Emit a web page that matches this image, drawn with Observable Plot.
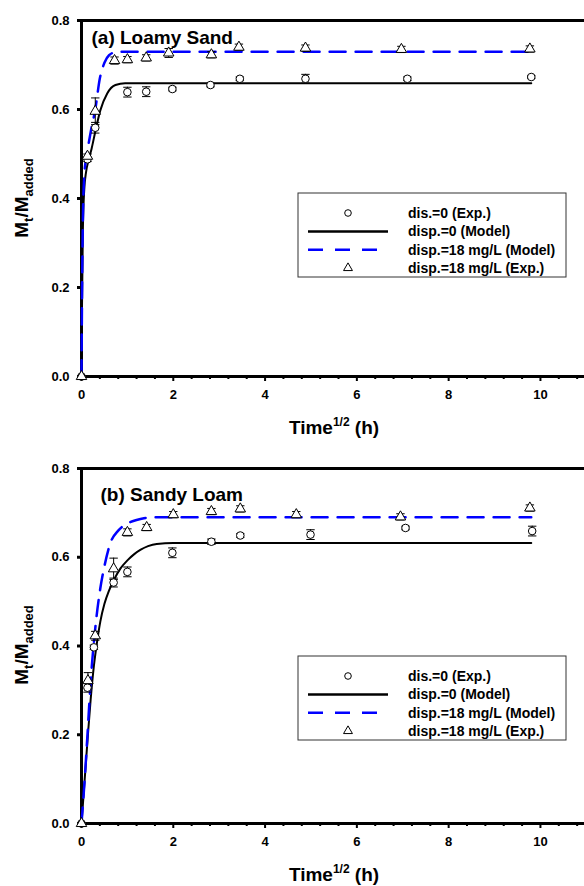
<!DOCTYPE html>
<html>
<head>
<meta charset="utf-8">
<script src="https://cdn.jsdelivr.net/npm/d3@7"></script>
<script src="https://cdn.jsdelivr.net/npm/@observablehq/plot@0.6"></script>
<style>
  html, body { margin: 0; padding: 0; background: white; }
  #chart { width: 584px; }
  #chart svg { display: block; }
</style>
</head>
<body>
<div id="chart"></div>
<script>
// ---------- axis ticks / labels ----------
const xTicks = [0, 2, 4, 6, 8, 10];
const xMinorTicks = [0.4, 0.8, 1.2, 1.6, 2.4, 2.8, 3.2, 3.6, 4.4, 4.8, 5.2, 5.6, 6.4, 6.8, 7.2, 7.6, 8.4, 8.8, 9.2, 9.6, 10.4, 10.8];
const yTicks = [0, 0.2, 0.4, 0.6, 0.8];
const legendLabels = ["dis.=0 (Exp.)", "disp.=0 (Model)", "disp.=18 mg/L (Model)", "disp.=18 mg/L (Exp.)"];
const panelTitles = ["(a) Loamy Sand", "(b) Sandy Loam"];

// ---------- (a) Loamy Sand ----------
const aCircT = [0, 0.13, 0.3, 1.0, 1.41, 1.98, 2.81, 3.45, 4.88, 7.1, 9.8];
const aCircV = [0, 0.488, 0.559, 0.639, 0.640, 0.646, 0.655, 0.669, 0.669, 0.669, 0.673];
const aCircE = [0, 0.005, 0.012, 0.011, 0.011, 0.004, 0.004, 0.004, 0.010, 0.004, 0.003];
const aTriT = [0, 0.13, 0.3, 0.72, 1.0, 1.41, 1.90, 2.83, 3.43, 4.88, 6.97, 9.77];
const aTriV = [0, 0.495, 0.596, 0.710, 0.712, 0.716, 0.727, 0.723, 0.740, 0.738, 0.735, 0.736];
const aTriE = [0, 0.005, 0.030, 0.008, 0.007, 0.007, 0.010, 0.007, 0.007, 0.007, 0.007, 0.007];
const aBlackT = [0, 0.01, 0.03, 0.06, 0.10, 0.15, 0.22, 0.30, 0.41, 0.56, 0.74, 0.95, 1.2, 9.8];
const aBlackV = [0, 0.15, 0.33, 0.42, 0.46, 0.485, 0.512, 0.550, 0.598, 0.636, 0.655, 0.659, 0.659, 0.659];
const aBlueT = [0, 0.01, 0.03, 0.06, 0.10, 0.15, 0.22, 0.30, 0.40, 0.50, 0.60, 0.75, 0.95, 9.83];
const aBlueV = [0, 0.16, 0.35, 0.45, 0.49, 0.52, 0.56, 0.60, 0.67, 0.705, 0.722, 0.729, 0.730, 0.730];

// ---------- (b) Sandy Loam ----------
const bCircT = [0, 0.13, 0.27, 0.7, 1.0, 1.98, 2.83, 3.46, 4.99, 7.06, 9.82];
const bCircV = [0, 0.306, 0.397, 0.543, 0.567, 0.610, 0.635, 0.649, 0.651, 0.666, 0.659];
const bCircE = [0, 0.010, 0.005, 0.010, 0.011, 0.011, 0.006, 0.004, 0.011, 0.004, 0.011];
const bTriT = [0, 0.14, 0.3, 0.7, 1.0, 1.42, 2.0, 2.83, 3.46, 4.68, 6.95, 9.77];
const bTriV = [0, 0.322, 0.423, 0.574, 0.656, 0.667, 0.696, 0.703, 0.709, 0.696, 0.691, 0.711];
const bTriE = [0, 0.018, 0.010, 0.024, 0.008, 0.007, 0.007, 0.007, 0.007, 0.007, 0.007, 0.007];
const bBlackT = [0, 0.07, 0.14, 0.20, 0.27, 0.34, 0.41, 0.50, 0.60, 0.70, 0.85, 1.0, 1.15, 1.29, 1.45, 1.64, 2.0, 9.8];
const bBlackV = [0, 0.10, 0.20, 0.28, 0.355, 0.41, 0.455, 0.495, 0.525, 0.548, 0.575, 0.593, 0.607, 0.617, 0.625, 0.630, 0.632, 0.632];
const bBlueT = [0, 0.07, 0.13, 0.20, 0.30, 0.41, 0.50, 0.63, 0.80, 1.0, 1.2, 1.36, 1.6, 9.8];
const bBlueV = [0, 0.10, 0.20, 0.32, 0.44, 0.53, 0.58, 0.632, 0.66, 0.676, 0.684, 0.688, 0.690, 0.690];

const FONT = "'Liberation Sans', Arial, Helvetica, sans-serif";
const BLUE = "#0000ff";

const pts = (T, V, E) => T.map((t, i) => ({t, v: V[i], e: E ? E[i] : 0}));

// horizontal cap symbol for error bars
const capSymbol = {
  draw(ctx, size) {
    const w = Math.sqrt(size / Math.PI);
    ctx.moveTo(-w, 0);
    ctx.lineTo(w, 0);
  }
};

function errorMarks(data) {
  const d = data.filter(p => p.e > 0);
  return [
    Plot.ruleX(d, {x: "t", y1: p => p.v - p.e, y2: p => p.v + p.e, stroke: "black", strokeWidth: 1}),
    Plot.dot(d, {x: "t", y: p => p.v + p.e, symbol: capSymbol, r: 4.2, stroke: "black", strokeWidth: 1, fill: "none"}),
    Plot.dot(d, {x: "t", y: p => p.v - p.e, symbol: capSymbol, r: 4.2, stroke: "black", strokeWidth: 1, fill: "none"})
  ];
}

function panel(cfg) {
  const circ = pts(cfg.circT, cfg.circV, cfg.circE);
  const tri = pts(cfg.triT, cfg.triV, cfg.triE);
  const black = pts(cfg.blackT, cfg.blackV);
  const blue = pts(cfg.blueT, cfg.blueV);
  const svg = Plot.plot({
    width: 584,
    height: cfg.height,
    marginLeft: 81,
    marginRight: 0,
    marginTop: cfg.mt,
    marginBottom: cfg.mb,
    x: {domain: [0, 10.96], axis: null, label: null},
    y: {domain: [0, 0.8], axis: null, label: null},
    style: {fontFamily: FONT, fontWeight: "bold", background: "white", color: "black", overflow: "visible"},
    marks: [
      Plot.axisX(xMinorTicks, {tickSize: 3, strokeWidth: 2, tickFormat: () => "", label: null}),
      Plot.axisX(xTicks, {tickSize: 5, strokeWidth: 2, tickPadding: 8, fontSize: 13, fontWeight: "bold", tickFormat: d => String(d), label: null}),
      Plot.axisY(yTicks, {tickSize: 4, strokeWidth: 3, tickPadding: 8, fontSize: 13, fontWeight: "bold", tickFormat: d3.format(".1f"), label: null}),
      Plot.ruleY([0.8], {stroke: "black", strokeWidth: 3}),
      Plot.ruleY([0], {stroke: "black", strokeWidth: 3}),
      Plot.ruleX([0], {stroke: "black", strokeWidth: 3}),
      Plot.line(black, {x: "t", y: "v", stroke: "black", strokeWidth: 2, curve: "monotone-x"}),
      Plot.line(blue, {x: "t", y: "v", stroke: BLUE, strokeWidth: 2.5, strokeDasharray: "16,10", curve: "monotone-x"}),
      ...errorMarks(circ),
      ...errorMarks(tri),
      Plot.dot(circ, {x: "t", y: "v", symbol: "circle", r: 3.8, stroke: "black", strokeWidth: 1, fill: "white"}),
      Plot.dot(tri, {x: "t", y: "v", symbol: "triangle", r: 3.9, stroke: "black", strokeWidth: 1, fill: "white"}),
      Plot.text([cfg.title], {frameAnchor: "top-left", dx: cfg.titleDx, dy: cfg.titleDy, fontSize: 19, fontWeight: "bold", textAnchor: "start", fill: "black"})
    ]
  });

  const s = d3.select(svg);
  // y axis title with subscripts
  const yl = s.append("text")
    .attr("transform", `translate(28,${cfg.yTitleY}) rotate(-90)`)
    .attr("text-anchor", "middle")
    .attr("font-family", FONT).attr("font-weight", "bold").attr("font-size", 19).attr("fill", "black");
  yl.append("tspan").text("M");
  yl.append("tspan").attr("font-size", 13).attr("dy", 5).text("t");
  yl.append("tspan").attr("dy", -5).text("/M");
  yl.append("tspan").attr("font-size", 13).attr("dy", 5).text("added");

  // x axis title with superscript
  const xl = s.append("text")
    .attr("x", 334).attr("y", cfg.xTitleY)
    .attr("text-anchor", "middle")
    .attr("font-family", FONT).attr("font-weight", "bold").attr("font-size", 19).attr("fill", "black");
  xl.append("tspan").text("Time");
  xl.append("tspan").attr("font-size", 12).attr("dy", -8).text("1/2");
  xl.append("tspan").attr("dy", 8).text(" (h)");

  // legend
  const L = s.append("g").attr("transform", `translate(298,${cfg.legendTop})`);
  L.append("rect").attr("x", 0).attr("y", 0).attr("width", 268).attr("height", 84)
    .attr("fill", "white").attr("stroke", "#333").attr("stroke-width", 1);
  const rows = [20, 38.4, 56.7, 75];
  legendLabels.forEach((lab, i) => {
    L.append("text").attr("x", 110).attr("y", rows[i]).attr("dy", "0.35em")
      .attr("text-anchor", "start")
      .attr("font-family", FONT).attr("font-weight", "bold").attr("font-size", 14).attr("fill", "black").text(lab);
  });
  L.append("circle").attr("cx", 50).attr("cy", rows[0]).attr("r", 3.3).attr("fill", "white").attr("stroke", "black");
  L.append("line").attr("x1", 10).attr("x2", 90).attr("y1", rows[1]).attr("y2", rows[1]).attr("stroke", "black").attr("stroke-width", 2.5);
  L.append("line").attr("x1", 10).attr("x2", 90).attr("y1", rows[2]).attr("y2", rows[2]).attr("stroke", BLUE).attr("stroke-width", 2.5).attr("stroke-dasharray", "15,12");
  L.append("path").attr("d", d3.symbol(d3.symbolTriangle, 3.3 * 3.3 * Math.PI)()).attr("transform", `translate(50,${rows[3]})`)
    .attr("fill", "white").attr("stroke", "black");
  return svg;
}

const chart = document.getElementById("chart");
chart.appendChild(panel({
  height: 440, mt: 20, mb: 64,
  circT: aCircT, circV: aCircV, circE: aCircE,
  triT: aTriT, triV: aTriV, triE: aTriE,
  blackT: aBlackT, blackV: aBlackV, blueT: aBlueT, blueV: aBlueV,
  title: panelTitles[0], titleDx: 10, titleDy: 10,
  yTitleY: 198, xTitleY: 434, legendTop: 193
}));
chart.appendChild(panel({
  height: 446, mt: 28, mb: 63,
  circT: bCircT, circV: bCircV, circE: bCircE,
  triT: bTriT, triV: bTriV, triE: bTriE,
  blackT: bBlackT, blackV: bBlackV, blueT: bBlueT, blueV: bBlueV,
  title: panelTitles[1], titleDx: 19, titleDy: 19,
  yTitleY: 205, xTitleY: 441, legendTop: 216
}));
</script>
</body>
</html>
